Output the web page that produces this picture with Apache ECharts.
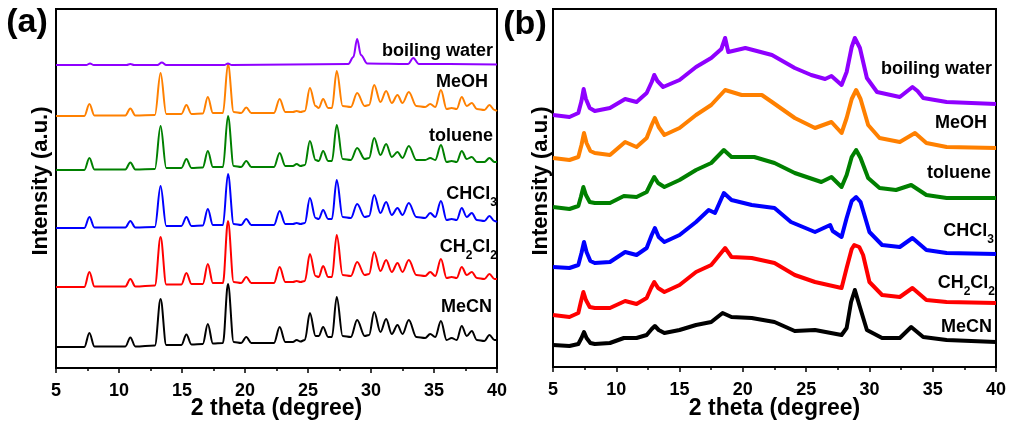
<!DOCTYPE html>
<html><head><meta charset="utf-8">
<script src="https://cdn.jsdelivr.net/npm/echarts@6/dist/echarts.min.js"></script>
<style>html,body{margin:0;padding:0;background:#fff}#c{width:1009px;height:423px}</style>
</head><body><div id="c"></div><script>
// ---------- data ----------
const names = ['boiling water', 'MeOH', 'toluene', 'CHCl3', 'CH2Cl2', 'MeCN'];
const colors = ['#8f00ff', '#ff8000', '#008000', '#0000ff', '#ff0000', '#000000'];
const xTicks = [5, 10, 15, 20, 25, 30, 35, 40];

// panel (a): vertical offsets of each pattern (a.u.)
const offsetA = [303, 252, 198, 140, 81, 21];

// panel (a): shared 2-theta sampling for the five crystalline patterns
const twoThetaA = [5, 7.25, 7.65, 8.05, 10.5, 10.9, 11.3, 12.85, 13.3, 13.75, 14.95, 15.35, 15.75, 16.65, 17.05, 17.45,
  18.25, 18.65, 19.1, 19.7, 20.1, 20.5, 22.3, 22.75, 23.2, 23.8, 24.1, 24.4, 24.75, 25.15, 25.6, 25.85, 26.2, 26.6,
  26.9, 27.28, 27.75, 28.4, 28.9, 29.5, 29.85, 30.25, 30.75, 31.2, 31.65, 32.1, 32.5, 33.0, 33.6, 34.3, 34.7, 35.1,
  35.55, 36.0, 36.4, 36.8, 37.2, 37.6, 38.0, 38.4, 39.0, 39.4, 39.8, 40];
const aMeOH = [0,0,12,0.5,0.5,7.5,0.5,1,43,2,2,11,2,2.5,19,3,3,52,4,3,8.5,3,3,17,4,4,5,4,5,28,10,8,17,8,8,45,10,9,23,10,11,31,14,25,13,21,13,24,10,9,12,9,26,7,8,7,19,10,13,7,6,11,6,5];
const aToluene = [0,0,12,0.5,0.5,7.5,0.5,1,44,2,2,11,2,2.5,19,3,3,54,4,3,9,3,3,17,4,4,6,4,5,29,10,9,19,9,9,45,11,10,22,11,12,32,15,26,13,18,12,24,10,10,12,10,25,8,9,8,19,11,13,8,8,12,8,8];
const aCHCl3 = [0,0,11,0.5,0.5,7,0.5,1,42,2,2,11,2,2.5,19,3,3,54,4,3,9,3,3,17,4,4,5,4,5,30,10,9,18,9,9,48,11,10,24,11,12,33,15,26,13,20,13,25,11,10,15,11,27,8,9,8,20,11,15,8,7,12,7,6];
const aCH2Cl2 = [0,0,15,0.5,0.5,8,0.5,1.5,50,2.5,2.5,14,3,3,23,4,4,66,5,4,10,4,4,20,5,5,6,5,6,33,11,10,21,10,10,52,12,11,25,12,13,35,16,27,15,24,15,27,12,11,15,11,28,9,10,9,20,12,15,9,8,13,8,8];
const aMeCN = [0,0,14,0.5,0.5,9.5,0.5,1.5,48,2,2,12.5,2.5,3,23,3.5,4,63,5,4,10,4,4,20,5,5,7,5.5,7,34,11,11,20,10,10,50,11,10,27,11,12,35,15,28,13,22,13,27,10,9,13,10,26,7,9,7,21,11,16,7,6,12,7,7];
// panel (a): boiling water pattern
const bwThetaA = [5, 7.4, 7.7, 8.0, 10.6, 10.9, 11.2, 13.05, 13.4, 13.75, 18.35, 18.65, 18.95, 28.2, 28.6, 28.9, 29.2, 29.7, 32.95, 33.35, 33.8, 40];
const bwA = [0, 0, 1.5, 0, 0, 1, 0, 0, 2.5, 0, 0, 1.5, 0, 1, 8, 26, 10, 1.5, 1, 7, 1, 0.5];

// panel (b): patterns (2-theta, stacked intensity a.u.)
const bBoiling = [[5,252],[6.3,250],[7.0,254],[7.25,266],[7.42,278],[7.6,268],[7.9,259],[8.3,256],[9.5,259],[10.3,265],[10.7,268],[11.6,265],[12.4,274],[12.8,285],[13.0,292],[13.25,286],[13.7,280],[15.0,287],[16.3,300],[17.5,309],[18.3,318],[18.6,329],[18.85,315],[20.2,319],[22.3,312],[24.1,299],[25.4,292],[26.5,288],[27.0,291],[27.8,282],[28.2,295],[28.6,320],[28.85,329],[29.25,319],[29.8,289],[30.6,275],[32.4,270],[33.0,276],[33.4,280],[33.8,276],[34.25,269],[36.1,265],[40,263]];
const bMeOH = [[5,209],[6.3,207],[7.0,210],[7.25,222],[7.45,234],[7.65,224],[7.95,216],[8.3,214],[9.5,212],[10.7,225],[11.6,220],[12.4,229],[12.8,242],[13.05,249],[13.35,240],[13.8,232],[15.0,239],[16.3,252],[17.5,262],[18.6,277],[19.9,272],[21.5,272],[22.3,265],[24.1,249],[25.7,239],[27.0,245],[27.8,234],[28.2,249],[28.6,268],[28.95,277],[29.3,268],[29.9,242],[30.8,229],[32.4,225],[33.6,234],[34.5,224],[36.1,220],[40,219]];
const bToluene = [[5,160],[6.3,158],[7.0,161],[7.2,170],[7.4,180],[7.6,172],[7.9,165],[8.3,164],[9.5,164],[10.6,171],[11.6,170],[12.4,175],[12.75,184],[13.0,190],[13.3,184],[13.8,180],[15.0,187],[16.3,197],[17.5,204],[18.5,217],[19.1,210],[20.9,210],[22.5,204],[24.1,194],[26.2,185],[27.0,190],[27.8,180],[28.2,192],[28.6,210],[28.95,217],[29.3,209],[29.9,189],[30.8,179],[32.1,177],[33.3,182],[34.5,172],[36.1,169],[40,169]];
const bCHCl3 = [[5,100],[6.3,99],[7.0,102],[7.25,114],[7.45,125],[7.65,115],[7.95,106],[8.3,104],[9.5,105],[10.7,115],[11.6,112],[12.4,119],[12.8,132],[13.05,139],[13.35,130],[13.8,125],[15.0,132],[16.3,145],[17.3,157],[17.8,154],[18.5,174],[19.1,167],[20.7,162],[22.5,159],[23.8,145],[25.7,135],[26.9,142],[27.1,136],[27.8,130],[28.2,149],[28.6,166],[28.95,170],[29.3,165],[30.0,135],[31.0,122],[32.4,120],[33.4,129],[34.5,117],[36.1,114],[40,113]];
const bCH2Cl2 = [[5,52],[6.3,50],[7.0,54],[7.2,65],[7.4,75],[7.6,67],[7.9,60],[8.3,59],[9.5,59],[10.7,66],[11.6,63],[12.4,69],[12.75,79],[13.0,85],[13.3,79],[13.8,75],[15.0,82],[16.3,95],[17.5,102],[18.6,119],[19.1,110],[20.7,109],[22.5,104],[24.1,92],[25.7,85],[27.8,79],[28.2,99],[28.6,118],[28.8,122],[29.2,120],[29.5,112],[30.0,85],[31.0,72],[32.4,70],[33.4,79],[34.5,67],[36.1,65],[40,64]];
const bMeCN = [[5,22],[6.3,21],[7.0,23],[7.25,29],[7.45,35],[7.65,29],[7.95,24],[8.3,23],[9.5,24],[10.6,29],[11.6,29],[12.4,32],[12.8,38],[13.05,41],[13.35,37],[13.8,34],[15.0,37],[16.3,42],[17.5,45],[18.4,54],[19.1,50],[20.7,49],[22.5,45],[24.1,36],[25.7,37],[27.8,32],[28.2,39],[28.55,65],[28.85,77],[29.2,62],[29.8,37],[31.0,29],[32.4,29],[33.3,40],[34.25,30],[36.1,27],[40,25]];

// ---------- build ----------
const FONT = '"Liberation Sans", Arial, Helvetica, sans-serif';
function stackA(xs, hs, off) { return xs.map((x, i) => [x, hs[i] + off]); }
const seriesA = [
  stackA(bwThetaA, bwA, offsetA[0]),
  stackA(twoThetaA, aMeOH, offsetA[1]),
  stackA(twoThetaA, aToluene, offsetA[2]),
  stackA(twoThetaA, aCHCl3, offsetA[3]),
  stackA(twoThetaA, aCH2Cl2, offsetA[4]),
  stackA(twoThetaA, aMeCN, offsetA[5])
];
const seriesB = [bBoiling, bMeOH, bToluene, bCHCl3, bCH2Cl2, bMeCN];

function xAx(gi) {
  return {
    type: 'value', gridIndex: gi, min: xTicks[0], max: xTicks[xTicks.length - 1], interval: 5,
    axisLine: { show: true, onZero: false, lineStyle: { color: '#000', width: 2 } },
    axisTick: { show: true, inside: false, length: 5, lineStyle: { color: '#000', width: 1.5 } },
    minorTick: { show: true, splitNumber: 2, length: 3, lineStyle: { color: '#000', width: 1.5 } },
    splitLine: { show: false }, minorSplitLine: { show: false },
    axisLabel: { show: true, color: '#000', fontSize: 18, fontWeight: 'bold', fontFamily: FONT, margin: 14,
      showMinLabel: true, showMaxLabel: true }
  };
}
function yAx(gi, max) {
  return {
    type: 'value', gridIndex: gi, min: 0, max: max,
    axisLine: { show: true, onZero: false, lineStyle: { color: '#000', width: 2 } },
    axisTick: { show: false }, axisLabel: { show: false }, splitLine: { show: false }
  };
}

const series = [];
seriesA.forEach((d, i) => series.push({
  type: 'line', name: names[i] + ' a', xAxisIndex: 0, yAxisIndex: 0, data: d, showSymbol: false,
  symbol: 'none', smooth: 0.35, smoothMonotone: 'x',
  lineStyle: { color: colors[i], width: 2 }, itemStyle: { color: colors[i] }, z: 10 - i, silent: true
}));
seriesB.forEach((d, i) => series.push({
  type: 'line', name: names[i] + ' b', xAxisIndex: 1, yAxisIndex: 1, data: d, showSymbol: false,
  symbol: 'none', smooth: false,
  lineStyle: { color: colors[i], width: 4, join: 'round' }, itemStyle: { color: colors[i] }, z: 10 - i, silent: true
}));

function label(text, x, y, size, align) {
  return {
    type: 'text', x: x, y: y, silent: true, z: 100,
    style: {
      text: text, fill: '#000', fontSize: size, fontWeight: 'bold', fontFamily: FONT,
      align: align, textAlign: align, verticalAlign: 'middle', textVerticalAlign: 'middle',
      rich: { s: { fontSize: 12, fontWeight: 'bold', fontFamily: FONT, fill: '#000', padding: [17, 0, 0, 0] } }
    }
  };
}
const labelText = ['boiling water', 'MeOH', 'toluene', 'CHCl{s|3}', 'CH{s|2}Cl{s|2}', 'MeCN'];
const labPosA = [[493, 51], [488, 82], [493, 136], [497, 194], [497, 247], [492, 307]];
const labPosB = [[992, 69], [987, 123], [991, 173], [994, 231], [995, 283], [992, 327]];

const graphic = [];
labelText.forEach((t, i) => {
  graphic.push(label(t, labPosA[i][0], labPosA[i][1], 18, 'right'));
  graphic.push(label(t, labPosB[i][0], labPosB[i][1], 18, 'right'));
});
graphic.push(label('(a)', 27, 23, 34, 'center'));
graphic.push(label('(b)', 525, 25, 34, 'center'));
graphic.push(label('2 theta (degree)', 276.5, 409, 23, 'center'));
graphic.push(label('2 theta (degree)', 774.5, 409, 23, 'center'));
[[41, 181], [541, 181]].forEach(p => {
  const g = label('Intensity (a.u.)', p[0], p[1], 22, 'center');
  g.rotation = Math.PI / 2;
  graphic.push(g);
});

const chart = echarts.init(document.getElementById('c'), null, { renderer: 'canvas' });
chart.setOption({
  animation: false,
  backgroundColor: '#fff',
  grid: [
    { left: 56, right: 512, top: 9, bottom: 55, show: true, borderColor: '#000', borderWidth: 2, backgroundColor: 'transparent' },
    { left: 553, right: 13, top: 9, bottom: 56, show: true, borderColor: '#000', borderWidth: 2, backgroundColor: 'transparent' }
  ],
  xAxis: [xAx(0), xAx(1)],
  yAxis: [yAx(0, 359), yAx(1, 358)],
  series: series,
  graphic: graphic
});
</script></body></html>
